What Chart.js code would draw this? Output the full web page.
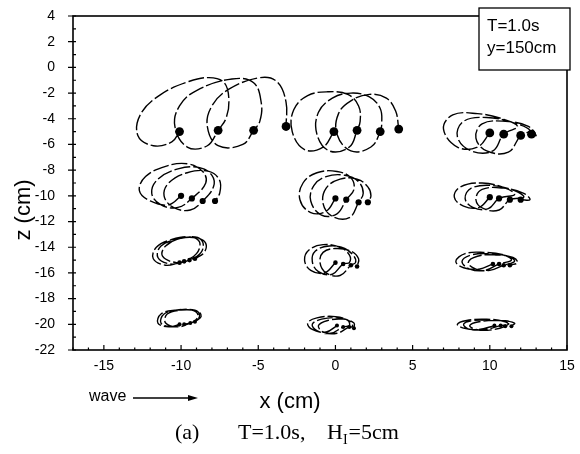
<!DOCTYPE html>
<html>
<head>
<meta charset="utf-8">
<script src="https://cdn.jsdelivr.net/npm/chart.js@4.4.0/dist/chart.umd.min.js"></script>
<style>
  html, body { margin: 0; padding: 0; background: #fff; }
</style>
</head>
<body>
<canvas id="orbits" width="580" height="454"></canvas>
<script>
// axis ticks
const xTicks = [-15, -10, -5, 0, 5, 10, 15];
const zTicks = [4, 2, 0, -2, -4, -6, -8, -10, -12, -14, -16, -18, -20, -22];

// particle paths, [x, z] in cm
const row1Left = [
  [-10.1,-5.0],[-10.6,-5.8],[-11.8,-6.1],[-12.8,-5.3],[-12.6,-3.6],[-11.3,-2.1],[-9.5,-1.1],[-8.2,-0.8],[-7.2,-1.2],[-6.9,-2.6],[-7.1,-4.0],[-7.6,-4.9],
  [-8.3,-6.1],[-9.6,-6.2],[-10.4,-4.6],[-10.1,-3.0],[-9.0,-1.8],[-6.7,-0.9],[-5.3,-1.2],[-4.8,-2.8],[-4.9,-4.2],[-5.3,-4.9],
  [-6.0,-6.0],[-7.6,-6.1],[-8.3,-4.6],[-8.0,-3.0],[-6.9,-1.7],[-4.9,-0.8],[-3.8,-1.1],[-3.2,-2.7],[-3.2,-4.6]
];
const row1Mid = [
  [-0.1,-5.0],[-0.8,-6.2],[-2.0,-6.4],[-2.8,-5.0],[-2.7,-3.3],[-1.8,-2.2],[-0.5,-1.9],[0.8,-2.1],[1.5,-3.0],[1.6,-4.2],[1.4,-4.9],
  [0.9,-6.2],[-0.4,-6.5],[-1.2,-5.2],[-1.1,-3.5],[-0.2,-2.4],[1.0,-2.0],[2.2,-2.3],[2.9,-3.2],[3.0,-4.3],[2.9,-5.0],
  [2.3,-6.2],[1.0,-6.5],[0.1,-5.2],[0.2,-3.6],[1.0,-2.6],[2.2,-2.1],[3.3,-2.4],[3.9,-3.4],[4.1,-4.8]
];
const row1Right = [
  [10.0,-5.1],[9.2,-6.2],[7.9,-6.2],[7.0,-4.8],[7.6,-3.7],[9.2,-3.6],[10.8,-4.0],[11.8,-4.6],[10.9,-5.2],
  [10.2,-6.5],[8.8,-6.5],[7.9,-5.4],[8.3,-4.2],[9.8,-3.9],[11.5,-4.3],[12.6,-4.9],[12.0,-5.3],
  [11.2,-6.6],[9.8,-6.5],[9.1,-5.5],[9.5,-4.4],[11.0,-4.2],[12.5,-4.6],[13.0,-5.3],[12.7,-5.2]
];
const row2Left = [
  [-10.0,-10.0],[-10.8,-10.7],[-12.0,-10.4],[-12.7,-9.6],[-12.3,-8.5],[-11.0,-7.7],[-9.6,-7.5],[-8.6,-8.1],[-8.4,-9.0],[-9.3,-10.2],
  [-10.2,-10.9],[-11.3,-10.7],[-11.9,-9.8],[-11.5,-8.7],[-10.2,-7.9],[-8.8,-7.8],[-8.0,-8.4],[-7.9,-9.3],[-8.6,-10.4],
  [-9.4,-11.1],[-10.5,-10.9],[-11.1,-10.0],[-10.8,-9.0],[-9.6,-8.2],[-8.2,-8.1],[-7.5,-8.8],[-7.5,-9.8],[-7.8,-10.4]
];
const row2Mid = [
  [0.0,-10.2],[-0.6,-11.2],[-1.6,-11.3],[-2.3,-10.3],[-2.1,-9.0],[-1.2,-8.2],[0.1,-8.1],[1.0,-8.6],[1.2,-9.5],[0.7,-10.3],
  [0.1,-11.4],[-0.9,-11.5],[-1.6,-10.4],[-1.4,-9.2],[-0.6,-8.5],[0.6,-8.4],[1.5,-8.9],[1.8,-9.8],[1.5,-10.5],
  [0.9,-11.7],[-0.2,-11.6],[-0.8,-10.6],[-0.6,-9.4],[0.3,-8.7],[1.4,-8.7],[2.1,-9.3],[2.3,-10.0],[2.1,-10.5]
];
const row2Right = [
  [10.0,-10.1],[9.3,-10.9],[8.3,-10.8],[7.7,-10.1],[8.1,-9.3],[9.5,-9.0],[11.0,-9.4],[11.6,-9.9],[10.6,-10.2],
  [9.9,-11.0],[8.9,-10.9],[8.4,-10.2],[8.8,-9.4],[10.2,-9.2],[11.6,-9.6],[12.2,-10.1],[11.3,-10.3],
  [10.6,-11.1],[9.6,-11.0],[9.1,-10.3],[9.5,-9.5],[10.9,-9.4],[12.2,-9.8],[12.6,-10.3],[12.0,-10.3]
];
const row3Left = [
  [-10.1,-15.2],[-11.0,-15.4],[-11.8,-14.9],[-11.6,-14.0],[-10.6,-13.4],[-9.4,-13.2],[-8.8,-13.6],[-9.0,-14.5],[-9.8,-15.1],
  [-10.7,-15.3],[-11.5,-14.8],[-11.3,-13.9],[-10.3,-13.4],[-9.1,-13.2],[-8.6,-13.6],[-8.7,-14.4],[-9.45,-15.0],
  [-10.3,-15.2],[-11.2,-14.7],[-11.0,-13.9],[-10.0,-13.3],[-8.9,-13.3],[-8.4,-13.7],[-8.5,-14.4],[-9.1,-14.9]
];
const row3Mid = [
  [0.0,-15.2],[-0.7,-16.0],[-1.6,-15.8],[-2.0,-15.0],[-1.7,-14.2],[-0.8,-13.8],[0.3,-14.0],[0.9,-14.6],[0.9,-15.2],[0.5,-15.3],
  [-0.2,-16.1],[-1.1,-15.9],[-1.5,-15.1],[-1.3,-14.3],[-0.4,-13.9],[0.6,-14.1],[1.2,-14.7],[1.3,-15.2],[1.0,-15.4],
  [0.3,-16.2],[-0.6,-16.0],[-1.0,-15.2],[-0.8,-14.4],[0.0,-14.1],[1.0,-14.3],[1.5,-14.9],[1.4,-15.5]
];
const row3Right = [
  [10.2,-15.3],[9.3,-15.7],[8.3,-15.6],[7.8,-15.1],[8.4,-14.5],[9.6,-14.4],[10.9,-14.6],[11.4,-15.0],[10.6,-15.3],
  [9.7,-15.8],[8.7,-15.7],[8.2,-15.1],[8.8,-14.6],[10.0,-14.5],[11.2,-14.7],[11.6,-15.1],[10.9,-15.4],
  [10.0,-15.8],[9.1,-15.7],[8.6,-15.2],[9.2,-14.7],[10.4,-14.6],[11.5,-14.8],[11.8,-15.2],[11.3,-15.4]
];
const row4Left = [
  [-10.1,-20.0],[-10.8,-20.2],[-11.5,-19.9],[-11.3,-19.2],[-10.4,-18.9],[-9.3,-18.9],[-8.9,-19.3],[-9.2,-19.8],[-9.8,-20.0],
  [-10.6,-20.2],[-11.3,-19.9],[-11.1,-19.2],[-10.2,-18.9],[-9.1,-18.9],[-8.8,-19.3],[-9.0,-19.7],[-9.4,-19.9],
  [-10.2,-20.2],[-11.0,-19.9],[-10.9,-19.2],[-10.0,-18.9],[-8.9,-19.0],[-8.7,-19.4],[-9.1,-19.8]
];
const row4Mid = [
  [0.1,-20.1],[-0.6,-20.6],[-1.5,-20.4],[-1.8,-19.9],[-1.2,-19.5],[0.0,-19.4],[0.8,-19.7],[0.9,-20.1],[0.5,-20.2],
  [-0.3,-20.7],[-1.2,-20.5],[-1.5,-20.0],[-0.9,-19.6],[0.2,-19.5],[1.0,-19.8],[1.1,-20.2],[0.9,-20.2],
  [0.1,-20.7],[-0.8,-20.6],[-1.1,-20.1],[-0.5,-19.7],[0.5,-19.6],[1.2,-19.9],[1.2,-20.3]
];
const row4Right = [
  [10.3,-20.1],[9.3,-20.4],[8.3,-20.3],[7.9,-20.0],[8.5,-19.7],[9.8,-19.6],[11.0,-19.8],[11.2,-20.0],[10.7,-20.1],
  [9.7,-20.4],[8.7,-20.4],[8.3,-20.0],[8.9,-19.7],[10.2,-19.7],[11.3,-19.8],[11.0,-20.15],
  [10.0,-20.45],[9.1,-20.4],[8.7,-20.1],[9.3,-19.8],[10.6,-19.7],[11.6,-19.9],[11.4,-20.15]
];

// particle position at the end of each wave period
const row1LeftDots = [[-10.1,-5.0],[-7.6,-4.9],[-5.3,-4.9],[-3.2,-4.6]];
const row1MidDots = [[-0.1,-5.0],[1.4,-4.9],[2.9,-5.0],[4.1,-4.8]];
const row1RightDots = [[10.0,-5.1],[10.9,-5.2],[12.0,-5.3],[12.7,-5.2]];
const row2LeftDots = [[-10.0,-10.0],[-9.3,-10.2],[-8.6,-10.4],[-7.8,-10.4]];
const row2MidDots = [[0.0,-10.2],[0.7,-10.3],[1.5,-10.5],[2.1,-10.5]];
const row2RightDots = [[10.0,-10.1],[10.6,-10.2],[11.3,-10.3],[12.0,-10.3]];
const row3LeftDots = [[-10.1,-15.2],[-9.8,-15.1],[-9.45,-15.0],[-9.1,-14.9]];
const row3MidDots = [[0.0,-15.2],[0.5,-15.3],[1.0,-15.4],[1.4,-15.5]];
const row3RightDots = [[10.2,-15.3],[10.6,-15.3],[10.9,-15.4],[11.3,-15.4]];
const row4LeftDots = [[-10.1,-20.0],[-9.8,-20.0],[-9.4,-19.9],[-9.1,-19.8]];
const row4MidDots = [[0.1,-20.1],[0.5,-20.2],[0.9,-20.2],[1.2,-20.3]];
const row4RightDots = [[10.3,-20.1],[10.7,-20.1],[11.0,-20.15],[11.4,-20.15]];

const toXY = arr => arr.map(p => ({ x: p[0], y: p[1] }));

const paths = [row1Left, row1Mid, row1Right, row2Left, row2Mid, row2Right,
  row3Left, row3Mid, row3Right, row4Left, row4Mid, row4Right];
const dotSets = [
  [row1LeftDots, 4.4], [row1MidDots, 4.4], [row1RightDots, 4.4],
  [row2LeftDots, 3.1], [row2MidDots, 3.1], [row2RightDots, 3.1],
  [row3LeftDots, 2.3], [row3MidDots, 2.3], [row3RightDots, 2.3],
  [row4LeftDots, 2], [row4MidDots, 2], [row4RightDots, 2]
];

const datasets = [];
paths.forEach(p => {
  datasets.push({
    data: toXY(p),
    showLine: true,
    tension: 0.4,
    borderColor: "#000",
    borderWidth: 1.4,
    borderDash: [16, 3],
    pointRadius: 0,
    fill: false
  });
});
dotSets.forEach(([d, r]) => {
  datasets.push({
    data: toXY(d),
    showLine: false,
    pointRadius: r,
    pointBackgroundColor: "#000",
    pointBorderWidth: 0
  });
});

const decor = {
  id: "decor",
  afterDraw(chart) {
    const { ctx, chartArea: a, scales: { x, y } } = chart;
    ctx.save();
    ctx.strokeStyle = "#000";
    ctx.fillStyle = "#000";

    // frame
    ctx.lineWidth = 1.6;
    ctx.strokeRect(a.left, a.top, a.right - a.left, a.bottom - a.top);

    // tick marks
    ctx.lineWidth = 1.2;
    ctx.beginPath();
    for (let v = -17; v <= 15; v++) {
      const px = x.getPixelForValue(v);
      const len = xTicks.includes(v) ? 5 : 2.5;
      ctx.moveTo(px, a.bottom);
      ctx.lineTo(px, a.bottom - len);
    }
    for (let v = -22; v <= 4; v++) {
      const py = y.getPixelForValue(v);
      if (zTicks.includes(v)) {
        ctx.moveTo(a.left - 5, py);
        ctx.lineTo(a.left + 3, py);
      } else {
        ctx.moveTo(a.left, py);
        ctx.lineTo(a.left + 3, py);
      }
    }
    ctx.stroke();

    // axis titles
    ctx.font = "22px 'Liberation Sans', Arial, sans-serif";
    ctx.textAlign = "center";
    ctx.textBaseline = "middle";
    ctx.fillText("x (cm)", 290, 402);
    ctx.save();
    ctx.translate(24, 210);
    ctx.rotate(-Math.PI / 2);
    ctx.fillText("z (cm)", 0, 0);
    ctx.restore();

    // wave direction
    ctx.font = "16px 'Liberation Sans', Arial, sans-serif";
    ctx.textAlign = "left";
    ctx.fillText("wave", 89, 397);
    ctx.lineWidth = 1.5;
    ctx.beginPath();
    ctx.moveTo(133, 398);
    ctx.lineTo(190, 398);
    ctx.stroke();
    ctx.beginPath();
    ctx.moveTo(198, 398);
    ctx.lineTo(188, 395);
    ctx.lineTo(188, 401);
    ctx.closePath();
    ctx.fill();

    // caption
    ctx.font = "22px 'Liberation Serif', 'Times New Roman', serif";
    ctx.fillText("(a)", 175, 433);
    ctx.fillText("T=1.0s,", 238, 433);
    let cx = 327;
    ctx.fillText("H", cx, 433);
    cx += ctx.measureText("H").width;
    ctx.font = "14px 'Liberation Serif', 'Times New Roman', serif";
    ctx.fillText("I", cx, 440);
    cx += ctx.measureText("I").width + 1;
    ctx.font = "22px 'Liberation Serif', 'Times New Roman', serif";
    ctx.fillText("=5cm", cx, 433);

    // info box
    ctx.fillStyle = "#fff";
    ctx.fillRect(479, 8, 91, 62);
    ctx.lineWidth = 1.3;
    ctx.strokeRect(479, 8, 91, 62);
    ctx.fillStyle = "#000";
    ctx.font = "17px 'Liberation Sans', Arial, sans-serif";
    ctx.fillText("T=1.0s", 487, 26);
    ctx.fillText("y=150cm", 487, 48);
    ctx.restore();
  }
};

// invisible tick marks give the label gap without widening the outer padding
const hiddenGrid = len => ({
  display: true,
  drawOnChartArea: false,
  drawTicks: true,
  tickLength: len,
  color: "rgba(0,0,0,0)"
});

new Chart(document.getElementById("orbits"), {
  type: "scatter",
  data: { datasets },
  plugins: [decor],
  options: {
    responsive: false,
    animation: false,
    layout: { padding: { top: 16, right: 13, bottom: 0, left: 0 } },
    plugins: { legend: { display: false }, tooltip: { enabled: false } },
    scales: {
      x: {
        type: "linear",
        min: -17,
        max: 15,
        afterBuildTicks: s => { s.ticks = xTicks.map(v => ({ value: v })); },
        afterFit: s => { s.height = 104; },
        grid: hiddenGrid(8),
        border: { display: false },
        ticks: {
          color: "#000",
          padding: 0,
          font: { family: "'Liberation Sans', Arial, sans-serif", size: 14 }
        }
      },
      y: {
        type: "linear",
        min: -22,
        max: 4,
        afterBuildTicks: s => { s.ticks = zTicks.map(v => ({ value: v })); },
        afterFit: s => { s.width = 73; },
        grid: hiddenGrid(18),
        border: { display: false },
        ticks: {
          color: "#000",
          padding: 0,
          font: { family: "'Liberation Sans', Arial, sans-serif", size: 14 }
        }
      }
    }
  }
});
</script>
</body>
</html>
